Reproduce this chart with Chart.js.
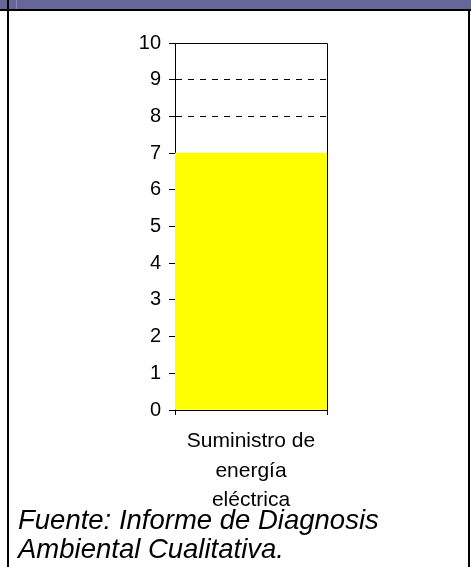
<!DOCTYPE html>
<html>
<head>
<meta charset="utf-8">
<script src="https://cdn.jsdelivr.net/npm/chart.js@4/dist/chart.umd.min.js"></script>
<style>
  body { margin: 0; width: 471px; height: 567px; position: relative; overflow: hidden; background: #fff; font-family: "Liberation Sans", Arial, sans-serif; }
  #band { position: absolute; left: 0; top: 0; width: 471px; height: 9px; background: #666699; border-bottom: 2px solid #000; }
  #bandLine { position: absolute; left: 16px; top: 0; width: 1px; height: 9px; background: #8a8ab8; }
  #lborder { position: absolute; left: 7px; top: 0; width: 2px; height: 567px; background: #000; }
  #rborder { position: absolute; left: 468px; top: 10px; width: 2px; height: 557px; background: #000; }
  #wrap { position: absolute; left: 0; top: 0; width: 471px; height: 567px; }
  #fuente { position: absolute; left: 18px; top: 505px; font-style: italic; font-size: 27.5px; line-height: 29px; color: #000; }
</style>
</head>
<body>
<div id="band"></div>
<div id="bandLine"></div>
<div id="lborder"></div>
<div id="rborder"></div>
<div id="wrap"><canvas id="chart" width="471" height="567"></canvas></div>
<div id="fuente">Fuente: Informe de Diagnosis<br>Ambiental Cualitativa.</div>
<script>
// data
const categories = [['Suministro de', 'energía', 'eléctrica']];
const values = [7];
const yTicks = [0, 1, 2, 3, 4, 5, 6, 7, 8, 9, 10];

document.addEventListener("DOMContentLoaded", function () {
    let ctx = document.getElementById('chart').getContext('2d');

    new Chart(ctx, {
        type: 'bar',
        data: {
            labels: categories,
            datasets: [{
                data: values,
                backgroundColor: '#ffff00',
                borderWidth: 0,
                barPercentage: 1,
                categoryPercentage: 1
            }]
        },
        options: {
            responsive: false,
            animation: false,
            layout: { padding: { left: 0, right: 144, top: 43, bottom: 0 } },
            plugins: {
                legend: { display: false },
                tooltip: { enabled: false }
            },
            scales: {
                y: {
                    min: 0,
                    max: 10,
                    afterFit: function (scale) { scale.width = 175; },
                    afterBuildTicks: function (scale) {
                        scale.ticks = yTicks.map(v => ({ value: v }));
                    },
                    ticks: {
                        color: '#000',
                        padding: 8,
                        font: { family: 'Liberation Sans', size: 20 }
                    },
                    grid: {
                        color: '#000',
                        lineWidth: 1,
                        tickLength: 6,
                        tickColor: '#000',
                        tickBorderDash: []
                    },
                    border: { color: '#000', width: 1, dash: [6, 6] }
                },
                x: {
                    afterFit: function (scale) { scale.height = 157; },
                    ticks: {
                        color: '#000',
                        padding: 11,
                        maxRotation: 0,
                        font: { family: 'Liberation Sans', size: 21, lineHeight: 1.42 }
                    },
                    grid: {
                        drawOnChartArea: false,
                        tickLength: 5,
                        tickColor: '#000'
                    },
                    border: { color: '#000', width: 1 }
                }
            }
        },
        plugins: [{
            id: 'plotBorder',
            afterDraw: function (chart) {
                let a = chart.chartArea, c = chart.ctx;
                c.save();
                c.strokeStyle = '#000';
                c.lineWidth = 1;
                c.setLineDash([]);
                c.beginPath();
                c.moveTo(a.left, a.top + 0.5);
                c.lineTo(a.right + 0.5, a.top + 0.5);
                c.lineTo(a.right + 0.5, a.bottom);
                c.stroke();
                c.restore();
            }
        }]
    });
});
</script>
</body>
</html>
